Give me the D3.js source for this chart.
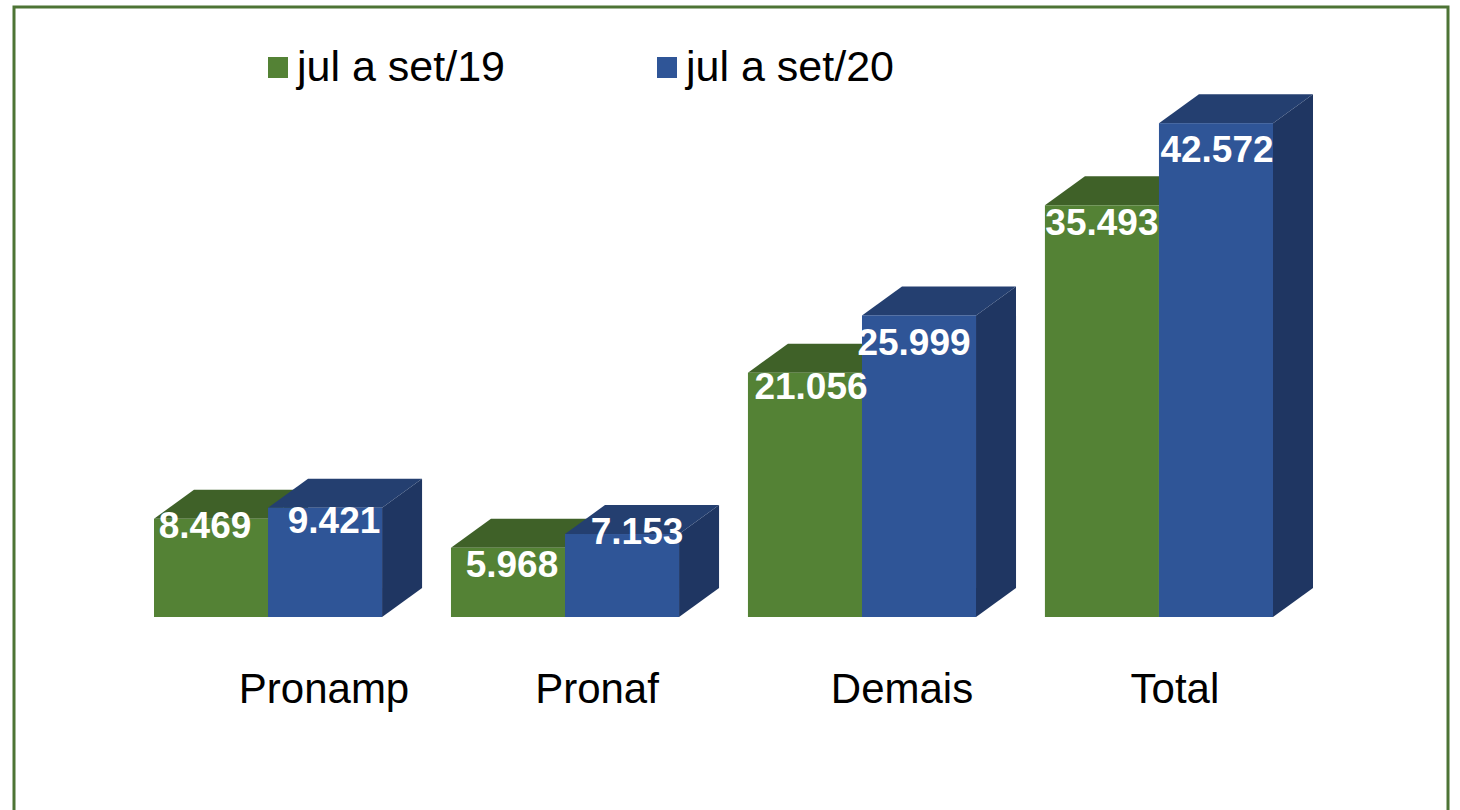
<!DOCTYPE html>
<html lang="pt">
<head>
<meta charset="UTF-8">
<title>Pronamp / Pronaf / Demais / Total</title>
<script src="https://cdn.jsdelivr.net/npm/d3@7"></script>
<style>
  body { margin: 0; background: #fff; }
  text { font-family: "Liberation Sans", Arial, sans-serif; }
</style>
</head>
<body>
<div id="chart"></div>
<script>
// data
const categories = ["Pronamp", "Pronaf", "Demais", "Total"];
const series = ["jul a set/19", "jul a set/20"];
const values19 = [8.469, 5.968, 21.056, 35.493];
const values20 = [9.421, 7.153, 25.999, 42.572];

const W = 1460, H = 810;
const baseY = 617;
const depthX = 40, depthY = 29;

const svg = d3.select("#chart").append("svg")
  .attr("width", W).attr("height", H);

// frame
svg.append("rect")
  .attr("x", 14).attr("y", 7)
  .attr("width", 1434).attr("height", 830)
  .attr("fill", "#fff")
  .attr("stroke", "#4d7435").attr("stroke-width", 3);

const x = d3.scaleBand()
  .domain(categories)
  .range([154, 1273])
  .paddingInner(0.232)
  .paddingOuter(0);

const xs = d3.scaleBand()
  .domain(series)
  .range([0, x.bandwidth()]);

const y = d3.scaleLinear()
  .domain([0, 45])
  .range([baseY, baseY - 45 * 11.6]);

const colors = {
  "jul a set/19": { front: "#548235", top: "#3f6128", side: "#37551f" },
  "jul a set/20": { front: "#2f5597", top: "#243f70", side: "#1f3662" }
};

// little manual nudges for the value labels, like in the original
const labelNudge = {
  "jul a set/19": [[-6, 19], [4, 29], [6, 26], [0, 30]],
  "jul a set/20": [[9, 25], [15, 10], [-5, 40], [1, 39]]
};

const rows = [];
categories.forEach((c, i) => {
  rows.push({ cat: c, s: series[0], v: values19[i], i });
  rows.push({ cat: c, s: series[1], v: values20[i], i });
});

const bars = svg.append("g").selectAll("g.bar")
  .data(rows).join("g").attr("class", "bar");

bars.each(function (d) {
  const g = d3.select(this);
  const x0 = x(d.cat) + xs(d.s);
  const x1 = x0 + xs.bandwidth();
  const top = y(d.v);
  const col = colors[d.s];

  g.append("path")
    .attr("d", `M${x1},${top}L${x1 + depthX},${top - depthY}L${x1 + depthX},${baseY - depthY}L${x1},${baseY}Z`)
    .attr("fill", col.side);
  g.append("path")
    .attr("d", `M${x0},${top}L${x0 + depthX},${top - depthY}L${x1 + depthX},${top - depthY}L${x1},${top}Z`)
    .attr("fill", col.top);
  g.append("rect")
    .attr("x", x0).attr("y", top)
    .attr("width", xs.bandwidth()).attr("height", baseY - top)
    .attr("fill", col.front);
});

// value labels on top of everything
svg.append("g").selectAll("text")
  .data(rows).join("text")
  .attr("x", d => x(d.cat) + xs(d.s) + xs.bandwidth() / 2 + labelNudge[d.s][d.i][0])
  .attr("y", d => y(d.v) + labelNudge[d.s][d.i][1])
  .attr("text-anchor", "middle")
  .attr("fill", "#fff")
  .attr("font-weight", "bold")
  .attr("font-size", 37)
  .text(d => d3.format(".3f")(d.v));

// category labels
const catNudge = [56, 32, 40, 16];
svg.append("g").selectAll("text")
  .data(categories).join("text")
  .attr("x", (d, i) => x(d) + x.bandwidth() / 2 + catNudge[i])
  .attr("y", 703)
  .attr("text-anchor", "middle")
  .attr("fill", "#000")
  .attr("font-size", 42)
  .text(d => d);

// legend
const legendX = [268, 657];
const lg = svg.append("g").selectAll("g")
  .data(series).join("g")
  .attr("transform", (d, i) => `translate(${legendX[i]},0)`);
lg.append("rect")
  .attr("x", 0).attr("y", 57)
  .attr("width", 20).attr("height", 21)
  .attr("fill", d => colors[d].front);
lg.append("text")
  .attr("x", 29).attr("y", 81)
  .attr("font-size", 43)
  .attr("fill", "#000")
  .text(d => d);
</script>
</body>
</html>
